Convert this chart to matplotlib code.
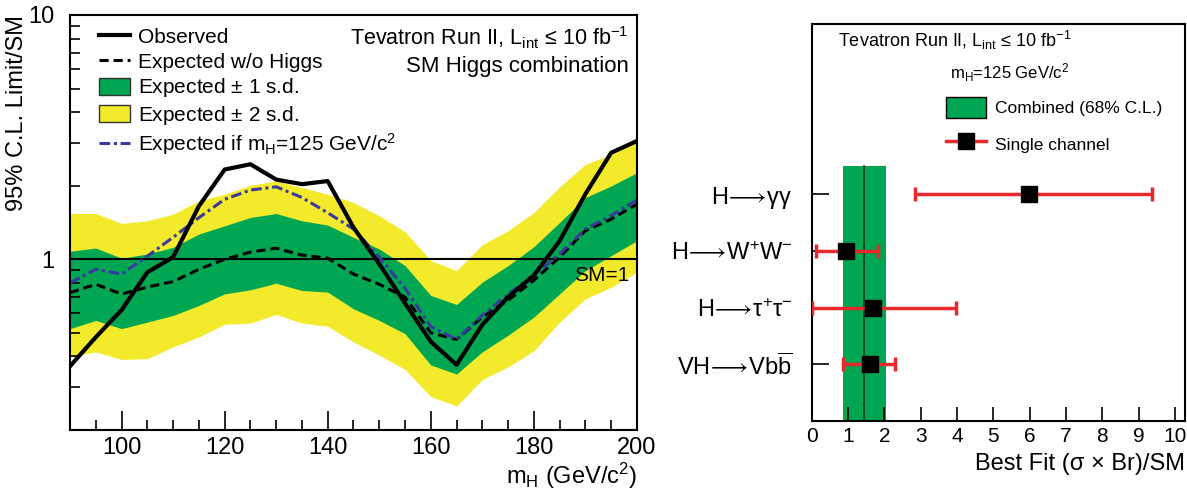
import matplotlib
matplotlib.use("Agg")
import matplotlib.pyplot as plt
from matplotlib.lines import Line2D
from matplotlib.patches import Patch
from matplotlib.ticker import LogLocator, NullFormatter, FixedLocator, FixedFormatter, MultipleLocator

plt.rcParams["font.family"] = ["Liberation Sans", "DejaVu Sans"]
plt.rcParams["mathtext.fontset"] = "custom"
plt.rcParams["mathtext.rm"] = "Liberation Sans"
plt.rcParams["mathtext.it"] = "Liberation Sans:italic"
plt.rcParams["mathtext.sf"] = "Liberation Sans"

# ── Left panel data: 95% CL limits / SM vs m_H ──────────
mass = [90, 95, 100, 105, 110, 115, 120, 125, 130, 135, 140, 145,
        150, 155, 160, 165, 170, 175, 180, 185, 190, 195, 200]
observed = [0.365, 0.48, 0.62, 0.885, 1.02, 1.65, 2.33, 2.45, 2.12, 2.03, 2.09, 1.35,
            0.957, 0.66, 0.46, 0.37, 0.54, 0.70, 0.86, 1.19, 1.85, 2.73, 3.05]
expected = [0.73, 0.79, 0.72, 0.77, 0.81, 0.91, 1.0, 1.07, 1.11, 1.04, 1.01, 0.87,
            0.79, 0.70, 0.50, 0.47, 0.58, 0.68, 0.82, 1.02, 1.31, 1.46, 1.68]
expected_125 = [0.80, 0.91, 0.87, 1.03, 1.23, 1.48, 1.76, 1.92, 1.98, 1.79, 1.55, 1.33,
                1.02, 0.76, 0.53, 0.47, 0.59, 0.72, 0.86, 1.05, 1.33, 1.51, 1.75]
band1_hi = [1.078, 1.112, 1.01, 1.051, 1.119, 1.268, 1.371, 1.483, 1.539, 1.437, 1.380, 1.229,
            1.102, 0.942, 0.711, 0.653, 0.806, 0.942, 1.126, 1.415, 1.789, 1.996, 2.263]
band1_lo = [0.520, 0.562, 0.520, 0.553, 0.589, 0.647, 0.722, 0.750, 0.798, 0.745, 0.734, 0.627,
            0.562, 0.496, 0.369, 0.339, 0.418, 0.489, 0.580, 0.722, 0.899, 1.035, 1.191]
band2_hi = [1.539, 1.539, 1.402, 1.437, 1.530, 1.734, 1.846, 2.009, 2.093, 1.966, 1.846, 1.707,
            1.507, 1.297, 0.988, 0.899, 1.148, 1.309, 1.554, 1.978, 2.446, 2.688, 3.046]
band2_lo = [0.399, 0.418, 0.389, 0.392, 0.438, 0.481, 0.542, 0.548, 0.595, 0.548, 0.532, 0.459,
            0.405, 0.354, 0.274, 0.251, 0.322, 0.363, 0.422, 0.553, 0.689, 0.769, 0.885]

# ── Right panel data: best fit per channel at m_H = 125 ──
channels = [r"$\mathrm{H}\!\longrightarrow\!\mathrm{\gamma\gamma}$",
            r"$\mathrm{H}\!\longrightarrow\!\mathrm{W^{+}W^{-}}$",
            r"$\mathrm{H}\!\longrightarrow\!\mathrm{\tau^{+}\tau^{-}}$",
            r"$\mathrm{VH}\!\longrightarrow\!\mathrm{Vb}\overline{\mathrm{b}}$"]
channel_pos = [4, 3, 2, 1]
fit_central = [5.97, 0.94, 1.68, 1.59]
fit_low = [2.85, 0.11, 0.0, 0.87]
fit_high = [9.36, 1.81, 3.96, 2.30]
comb_central = 1.44
comb_low = 0.87
comb_high = 2.03

GREEN = "#00a651"
YELLOW = "#f4ea2c"
RED = "#e8282d"
BLUE = "#3a3a9e"

fig = plt.figure(figsize=(11.87, 4.9), dpi=100)

# ── Left panel ───────────────────────────────────────────
ax = fig.add_axes([0.059, 0.1224, 0.4776, 0.847])
ax.fill_between(mass, band2_lo, band2_hi, color=YELLOW, lw=0)
ax.fill_between(mass, band1_lo, band1_hi, color=GREEN, lw=0)
ax.axhline(1.0, color="black", lw=1.5)
ax.plot(mass, expected, color="black", lw=2.2, ls=(0, (3, 1.6)))
ax.plot(mass, expected_125, color=BLUE, lw=2.2, ls=(0, (3.5, 1.2, 1, 1.2)))
ax.plot(mass, observed, color="black", lw=3)

ax.set_yscale("log")
ax.set_xlim(90, 200)
ax.set_ylim(0.2, 10)
ax.yaxis.set_major_locator(FixedLocator([1, 10]))
ax.yaxis.set_major_formatter(FixedFormatter(["1", "10"]))
ax.yaxis.set_minor_locator(LogLocator(base=10, subs=range(2, 10)))
ax.yaxis.set_minor_formatter(NullFormatter())
ax.xaxis.set_major_locator(MultipleLocator(20))
ax.xaxis.set_minor_locator(MultipleLocator(5))
ax.tick_params(which="both", direction="in", top=False, right=False, labelsize=17)
ax.tick_params(axis="x", which="major", length=14, width=1.2, pad=5)
ax.tick_params(axis="x", which="minor", length=7, width=1.2)
ax.tick_params(axis="y", which="major", length=14, width=1.2, pad=11)
ax.tick_params(axis="y", which="minor", length=7, width=1.2)
for s in ax.spines.values():
    s.set_linewidth(1.5)

ax.set_ylabel("95% C.L. Limit/SM", fontsize=17)
ax.yaxis.set_label_coords(-0.074, 1.0)
ax.yaxis.label.set_ha("right")
ax.set_xlabel(r"$\mathrm{m_H}$ (GeV/c$^2$)", fontsize=17)
ax.xaxis.set_label_coords(1.0, -0.074)
ax.xaxis.label.set_ha("right")

handles = [
    Line2D([], [], color="black", lw=3),
    Line2D([], [], color="black", lw=2.2, ls=(0, (3, 1.6))),
    Patch(facecolor=GREEN, edgecolor="#333333", lw=1),
    Patch(facecolor=YELLOW, edgecolor="#333333", lw=1),
    Line2D([], [], color=BLUE, lw=2.2, ls=(0, (3.5, 1.2, 1, 1.2))),
]
labels = ["Observed", "Expected w/o Higgs", r"Expected $\pm$ 1 s.d.",
          r"Expected $\pm$ 2 s.d.", r"Expected if $\mathrm{m_H}$=125 GeV/c$^2$"]
ax.legend(handles, labels, loc="upper left", bbox_to_anchor=(0.025, 1.005),
          frameon=False, fontsize=15, handlelength=1.5, handleheight=0.9,
          handletextpad=0.4, labelspacing=0.22, borderaxespad=0.3)

ax.text(0.985, 0.945, r"Tevatron Run II, L$_\mathregular{int}$ ≤ 10 fb$^\mathregular{-1}$",
        transform=ax.transAxes, ha="right", va="center", fontsize=15.5)
ax.text(0.985, 0.875, "SM Higgs combination", transform=ax.transAxes,
        ha="right", va="center", fontsize=16)
ax.text(198.5, 0.86, "SM=1", ha="right", va="center", fontsize=15)

# ── Right panel ──────────────────────────────────────────
bx = fig.add_axes([0.684, 0.1408, 0.3143, 0.8092])
bx.fill_betweenx([0, 4.5], comb_low, comb_high, color=GREEN, lw=0)
bx.plot([comb_central, comb_central], [0, 4.5], color="#1a3a1a", lw=1.2)
for c, lo, hi, y in zip(fit_central, fit_low, fit_high, channel_pos):
    bx.errorbar([c], [y], xerr=[[c - lo], [hi - c]], fmt="s", color="black",
                ms=12, ecolor=RED, elinewidth=2.5, capsize=5, capthick=2.5, zorder=3)
bx.set_xlim(0, 10.28)
bx.set_ylim(0, 7)
bx.set_yticks(channel_pos)
bx.set_yticklabels(channels, fontsize=17)
bx.xaxis.set_major_locator(MultipleLocator(1))
bx.tick_params(axis="x", direction="in", length=10, width=1.2, labelsize=15, pad=4,
               top=False)
bx.tick_params(axis="y", direction="in", length=12, width=1.2, pad=14, right=False)
for s in bx.spines.values():
    s.set_linewidth(1.5)
bx.set_xlabel(r"Best Fit (σ × Br)/SM", fontsize=17)
bx.xaxis.set_label_coords(1.0, -0.08)
bx.xaxis.label.set_ha("right")

bx.text(0.07, 0.96, r"Tevatron Run II, L$_\mathregular{int}$ ≤ 10 fb$^\mathregular{-1}$",
        transform=bx.transAxes, ha="left", va="center", fontsize=13)
bx.text(0.37, 0.879, r"$\mathrm{m_H}$=125 GeV/c$^2$", transform=bx.transAxes,
        ha="left", va="center", fontsize=12)
lh = [Patch(facecolor=GREEN, edgecolor="black", lw=1),
      Line2D([], [], color=RED, lw=2.5, marker="s", ms=12, mfc="black", mec="black")]
bx.legend(lh, ["Combined (68% C.L.)", "Single channel"], loc="upper left",
          bbox_to_anchor=(0.318, 0.856), frameon=False, fontsize=12.5,
          handlelength=2.3, handleheight=1.45, handletextpad=0.5, labelspacing=0.9)

fig.savefig("out.png", dpi=100)
